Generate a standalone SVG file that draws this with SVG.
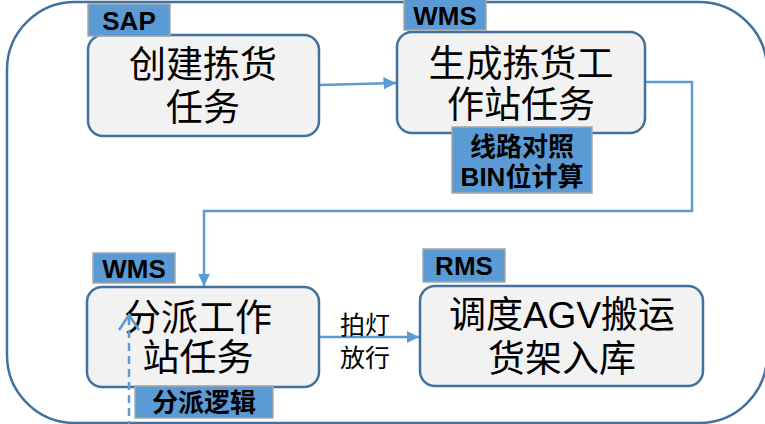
<svg xmlns="http://www.w3.org/2000/svg" width="765" height="424" viewBox="0 0 765 424">
<defs>
<style>
.box{fill:#F2F2F2;stroke:#41719C;stroke-width:2.5}
.tag{fill:#5B9BD5;stroke:#A6A6A6;stroke-width:1.5}
.tt{font-family:"Liberation Sans","Noto Sans CJK SC",sans-serif;font-weight:bold;fill:#000;text-anchor:middle}
.bt{font-family:"Liberation Sans","Noto Sans CJK SC",sans-serif;font-size:37px;fill:#000;text-anchor:middle}
.ln{fill:none;stroke:#5B9BD5;stroke-width:2.5}
</style>
<marker id="ah" viewBox="0 0 10 10" refX="10" refY="5" markerWidth="5" markerHeight="5" markerUnits="strokeWidth" orient="auto">
<path d="M0,0 L10,5 L0,10 z" fill="#5B9BD5"/>
</marker>
</defs>
<rect x="7" y="2" width="760" height="421" rx="68" fill="#fff" stroke="#41719C" stroke-width="2.5"/>
<g id="connectors">
<line class="ln" x1="319" y1="85" x2="396" y2="83" marker-end="url(#ah)"/>
<polyline class="ln" points="645,82 692,82 692,211 204,211 204,286" marker-end="url(#ah)"/>
<line class="ln" x1="319" y1="337" x2="419" y2="337" marker-end="url(#ah)"/>
</g>
<g id="n1">
<rect class="box" x="88" y="35" width="231" height="101" rx="15"/>
<text class="bt" x="203" y="78">创建拣货</text>
<text class="bt" x="203" y="121">任务</text>
</g>
<g id="t1">
<rect class="tag" x="88" y="4" width="82" height="32"/>
<text class="tt" x="129" y="30" font-size="26">SAP</text>
</g>
<g id="n2">
<rect class="box" x="397" y="32" width="248" height="101" rx="15"/>
<text class="bt" x="521" y="77">生成拣货工</text>
<text class="bt" x="521" y="118">作站任务</text>
</g>
<g id="t2">
<rect class="tag" x="404" y="-3" width="82" height="33"/>
<text class="tt" x="445" y="25" font-size="26">WMS</text>
</g>
<g id="t3">
<rect class="tag" x="452" y="127" width="140" height="66"/>
<text class="tt" x="522" y="156" font-size="26">线路对照</text>
<text class="tt" x="522" y="186" font-size="26">BIN位计算</text>
</g>
<g id="n3">
<rect class="box" x="87" y="287" width="232" height="100" rx="15"/>
<text class="bt" x="198" y="331">分派工作</text>
<text class="bt" x="198" y="371">站任务</text>
</g>
<g id="t4">
<rect class="tag" x="93" y="253" width="82" height="30"/>
<text class="tt" x="134" y="278" font-size="26">WMS</text>
</g>
<g id="t5">
<rect class="tag" x="135" y="386" width="138" height="32"/>
<text class="tt" x="204" y="412" font-size="26">分派逻辑</text>
</g>
<g id="dashed">
<line x1="129" y1="317" x2="129" y2="424" stroke="#5B9BD5" stroke-width="2.5" stroke-dasharray="8,5"/>
<polyline points="119,330 129,315 139,330" fill="none" stroke="#5B9BD5" stroke-width="2.5"/>
</g>
<g id="n4">
<rect class="box" x="420" y="286" width="283" height="100" rx="15"/>
<text class="bt" x="562" y="328">调度AGV搬运</text>
<text class="bt" x="562" y="372">货架入库</text>
</g>
<g id="t6">
<rect class="tag" x="423" y="249" width="82" height="33"/>
<text class="tt" x="464" y="275" font-size="26">RMS</text>
</g>
<g id="lbl">
<text x="365" y="334" font-family="'Liberation Sans','Noto Sans CJK SC',sans-serif" font-size="25" text-anchor="middle">拍灯</text>
<text x="365" y="367" font-family="'Liberation Sans','Noto Sans CJK SC',sans-serif" font-size="25" text-anchor="middle">放行</text>
</g>
</svg>
